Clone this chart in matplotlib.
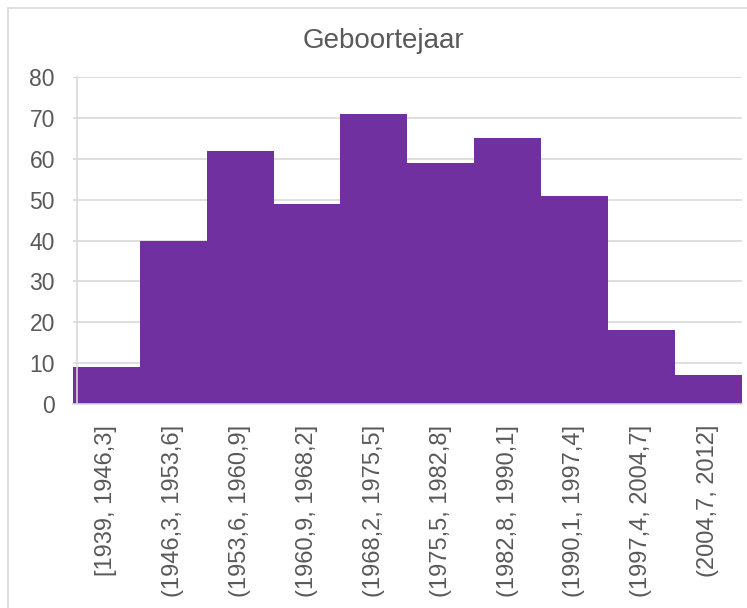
import matplotlib
matplotlib.use("Agg")
import matplotlib.pyplot as plt
from matplotlib.lines import Line2D

# bin labels and counts of the histogram
bins = ["[1939, 1946,3]", "(1946,3, 1953,6]", "(1953,6, 1960,9]", "(1960,9, 1968,2]",
        "(1968,2, 1975,5]", "(1975,5, 1982,8]", "(1982,8, 1990,1]", "(1990,1, 1997,4]",
        "(1997,4, 2004,7]", "(2004,7, 2012]"]
counts = [9, 40, 62, 49, 71, 59, 65, 51, 18, 7]
yticks = [0, 10, 20, 30, 40, 50, 60, 70, 80]

plt.rcParams['font.family'] = ['Liberation Sans', 'DejaVu Sans']

W, H = 747, 608
fig = plt.figure(figsize=(W / 100, H / 100), dpi=100)
ax = fig.add_axes([73 / W, (H - 404) / H, (741.5 - 73) / W, (404 - 77) / H])

x = range(len(counts))
ax.bar(x, counts, width=1.0, align='edge', color='#7030A0', zorder=2)

ax.set_xlim(0, len(counts))
ax.set_ylim(0, 80)
ax.set_yticks(yticks)
ax.yaxis.grid(True, color='#D9D9D9', linewidth=1.2, zorder=0)
ax.set_axisbelow(True)

ax.set_xticks([i + 0.5 for i in x])
ax.set_xticklabels(bins, rotation=90, va='top', ha='center')
ax.tick_params(axis='both', length=0, colors='#595959')
ax.tick_params(axis='x', pad=15, labelsize=17)
ax.tick_params(axis='y', pad=16, labelsize=16.5)

for s in ['top', 'right']:
    ax.spines[s].set_visible(False)
for s in ['left', 'bottom']:
    ax.spines[s].set_color('#D9D9D9')
    ax.spines[s].set_linewidth(1.2)
    ax.spines[s].set_zorder(3)
ax.spines['left'].set_position(('outward', -3))

fig.text(383 / W, 1 - 41 / H, "Geboortejaar", ha='center', va='center',
         fontsize=20, color='#595959')

# chart border
fig.add_artist(Line2D([7.5 / W, 7.5 / W], [0, 1 - 8 / H], transform=fig.transFigure,
                      color='#D9D9D9', linewidth=1.2))
fig.add_artist(Line2D([7.5 / W, 1], [1 - 8 / H, 1 - 8 / H], transform=fig.transFigure,
                      color='#D9D9D9', linewidth=1.2))

fig.savefig("out.png", dpi=100)
